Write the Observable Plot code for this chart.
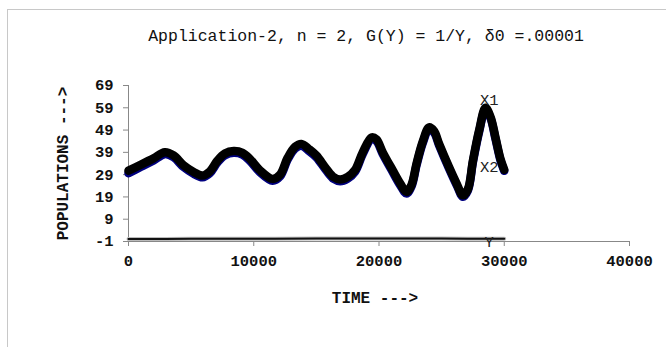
<!DOCTYPE html>
<html>
<head>
<meta charset="utf-8">
<script src="https://cdn.jsdelivr.net/npm/d3@7"></script>
<script src="https://cdn.jsdelivr.net/npm/@observablehq/plot@0.6"></script>
<style>
  html, body { margin: 0; padding: 0; background: #fff; overflow: hidden; }
  #wrap { position: relative; width: 666px; height: 347px; overflow: hidden; }
  #border { position: absolute; left: 7px; top: 9px; width: 700px; height: 400px; border: 1px solid #c8c8c8; box-sizing: border-box; }
  #chart { position: absolute; left: 0; top: 0; }
</style>
</head>
<body>
<div id="wrap"><div id="border"></div><div id="chart"></div></div>
<script>
// ---- data ----
const title = "Application-2, n = 2, G(Y) = 1/Y, \u03b40 =.00001";
const xLabel = "TIME --->";
const yLabel = "POPULATIONS --->";

const time = [0, 1000, 2000, 2900, 3600, 4400, 5200, 5900, 6500, 7100, 7700, 8400, 9100, 9700, 10500, 11500, 12100, 12700, 13300, 13800, 14400, 15000, 15800, 16400, 16900, 17500, 18100, 18700, 19400, 19800, 20300, 21100, 21700, 22200, 22600, 23000, 23500, 24000, 24400, 24800, 25600, 26200, 26700, 27100, 27500, 28000, 28500, 28900, 29300, 29700, 30000];
const X1 = [30.8, 33.5, 36.3, 39.0, 37.6, 33.2, 30.2, 28.6, 30.5, 35.3, 38.5, 39.6, 38.8, 36.0, 30.9, 27.1, 29.0, 36.5, 41.5, 42.8, 40.5, 37.6, 31.6, 27.8, 26.8, 28.0, 31.2, 39.0, 45.7, 44.8, 39.0, 30.9, 25.0, 21.2, 24.5, 34.0, 44.0, 50.2, 48.5, 42.8, 32.3, 25.0, 19.7, 22.5, 35.3, 49.0, 59.0, 55.0, 45.7, 36.0, 31.2];
const X2 = [29.6, 32.5, 35.4, 38.2, 36.8, 32.4, 29.4, 27.8, 29.7, 34.5, 37.7, 38.8, 38.0, 35.2, 30.1, 26.3, 28.2, 35.7, 40.7, 42.0, 39.7, 36.8, 30.8, 27.0, 26.0, 27.2, 30.4, 38.2, 44.9, 44.0, 38.2, 30.1, 24.2, 20.5, 23.8, 33.3, 43.3, 49.5, 47.8, 42.1, 31.6, 24.3, 19.1, 21.9, 34.7, 48.4, 58.3, 54.4, 45.1, 35.4, 30.7];
const timeY = [0, 5000, 10000, 15000, 18000, 20000, 25000, 30000];
const Yv = [0.1, 0.2, 0.2, 0.3, 0.4, 0.3, 0.3, 0.2];

const seriesNames = ["X1", "X2", "Y"];
const seriesLabelTime = [28800, 28800, 28800];
const seriesLabelValue = [62.6, 32.4, -1.2];

const xTicks = [0, 10000, 20000, 30000, 40000];
const yTicks = [-1, 9, 19, 29, 39, 49, 59, 69];

// ---- build tables ----
const tX1 = time.map((t, i) => ({t, v: X1[i]}));
const tX2 = time.map((t, i) => ({t, v: X2[i]}));
const tY = timeY.map((t, i) => ({t, v: Yv[i]}));
const tLab = seriesNames.map((n, i) => ({n, t: seriesLabelTime[i], v: seriesLabelValue[i]}));

const mono = "'Liberation Mono', 'Courier New', monospace";

const plot = Plot.plot({
  width: 666,
  height: 347,
  marginLeft: 128,
  marginRight: 37,
  marginTop: 85,
  marginBottom: 106,
  style: {fontFamily: mono, background: "transparent", overflow: "visible"},
  x: {domain: [0, 40000]},
  y: {domain: [-1, 69]},
  marks: [
    Plot.axisX({ticks: xTicks, tickFormat: d => String(d), label: null, tickSize: 5, tickPadding: 8,
      stroke: "#888", fill: "#111", fontSize: 15.5, fontWeight: "bold", fontFamily: mono}),
    Plot.axisY({ticks: yTicks, tickFormat: d => String(d), label: null, tickSize: 5, tickPadding: 10,
      stroke: "#888", fill: "#111", fontSize: 15.5, fontWeight: "bold", fontFamily: mono}),
    Plot.ruleX([0], {stroke: "#888", strokeWidth: 1}),
    Plot.ruleY([-1], {stroke: "#888", strokeWidth: 1}),
    Plot.line(tY, {x: "t", y: "v", stroke: "#bbb", strokeWidth: 4, curve: "catmull-rom"}),
    Plot.line(tY, {x: "t", y: "v", stroke: "#111", strokeWidth: 2, curve: "catmull-rom"}),
    Plot.line(tX2, {x: "t", y: "v", stroke: "#000080", strokeWidth: 8.5, strokeLinecap: "round", strokeLinejoin: "round", curve: "catmull-rom"}),
    Plot.line(tX1, {x: "t", y: "v", stroke: "#000", strokeWidth: 8.5, strokeLinecap: "round", strokeLinejoin: "round", curve: "catmull-rom"}),
    Plot.text(tLab, {x: "t", y: "v", text: "n", fontSize: 15.5, fontFamily: mono, fill: "#222", textAnchor: "middle", lineAnchor: "middle"}),
    Plot.text([title], {frameAnchor: "top", dx: -13, dy: -50, text: d => d, fontSize: 16.5, fontFamily: mono, fill: "#111", textAnchor: "middle", lineAnchor: "middle"}),
    Plot.text([xLabel], {frameAnchor: "bottom", dx: -4, dy: 56, text: d => d, fontSize: 16, fontWeight: "bold", fontFamily: mono, fill: "#111", textAnchor: "middle", lineAnchor: "middle"}),
    Plot.text([yLabel], {frameAnchor: "left", dx: -66, dy: 0, rotate: -90, text: d => d, fontSize: 16, fontWeight: "bold", fontFamily: mono, fill: "#111", textAnchor: "middle", lineAnchor: "middle"})
  ]
});
document.getElementById("chart").appendChild(plot);
</script>
</body>
</html>
